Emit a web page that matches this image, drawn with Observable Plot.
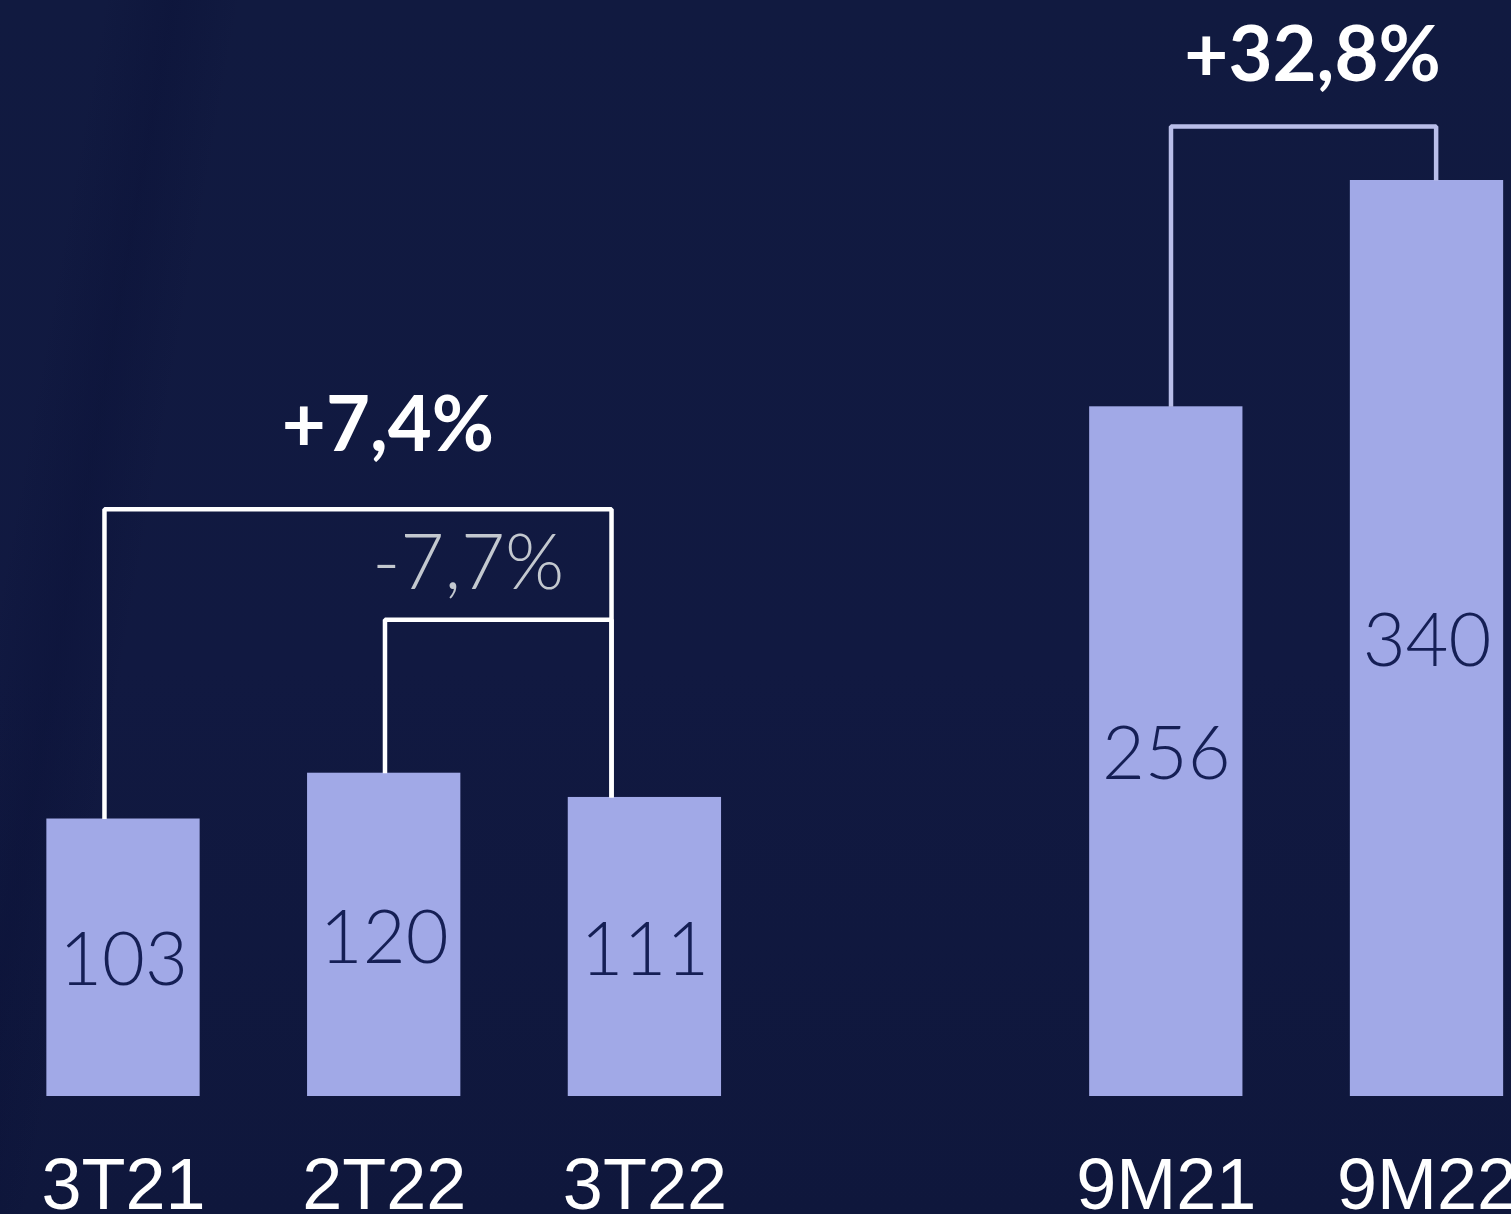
<!DOCTYPE html>
<html><head><meta charset="utf-8">
<script src="https://cdn.jsdelivr.net/npm/d3@7"></script>
<script src="https://cdn.jsdelivr.net/npm/@observablehq/plot@0.6"></script>
<style>
html,body{margin:0;padding:0;background:#11193f;}
#chart{width:1511px;height:1214px;overflow:hidden;
  background:
    linear-gradient(100deg, rgba(8,14,52,0) 6%, rgba(8,14,52,0.3) 10%, rgba(8,14,52,0) 14%),
    linear-gradient(180deg, #111a40 0%, #111941 55%, #0f173c 100%);}
#chart svg{display:block;}
</style></head><body><div id="chart"></div>
<script>
// ---- data ----
const categories = ["3T21", "2T22", "3T22", "9M21", "9M22"];
const slots = [0, 1, 2, 4, 5];          // slot 3 is the gap between the two groups
const values = [103, 120, 111, 256, 340];

const bracketLabels = ["+7,4%", "-7,7%", "+32,8%"];
const bracketFrom = ["3T21", "2T22", "9M21"];
const bracketTo = ["3T22", "3T22", "9M22"];
const bracketLevels = [218, 177, 360];

// ---- styles (not data) ----
const barHalf = 0.294;
const legShift = [[-0.073, -0.128], [0.003, -0.128], [0.018, 0.035]];
const bracketStyle = [
  {stroke: "#ffffff", fill: "#ffffff", weight: 700, dx: 30, dy: -83},
  {stroke: "#ffffff", fill: "#c3c8cf", weight: 300, dx: -30, dy: -55},
  {stroke: "#b9bee9", fill: "#ffffff", weight: 700, dx: 9, dy: -70}
];

const bars = categories.map((c, i) => ({cat: c, slot: slots[i], value: values[i]}));
const byCat = Object.fromEntries(bars.map(d => [d.cat, d]));

const bracketMarks = [];
bracketLabels.forEach((label, k) => {
  const a = byCat[bracketFrom[k]], b = byCat[bracketTo[k]];
  const xa = a.slot + legShift[k][0], xb = b.slot + legShift[k][1];
  const lvl = bracketLevels[k];
  const pts = [{x: xa, y: a.value}, {x: xa, y: lvl}, {x: xb, y: lvl}, {x: xb, y: b.value}];
  const st = bracketStyle[k];
  bracketMarks.push(Plot.line(pts, {x: "x", y: "y", stroke: st.stroke, strokeWidth: 4.5, strokeLinejoin: "miter", strokeLinecap: "butt", curve: "linear"}));
  bracketMarks.push(Plot.text([{x: (xa + xb) / 2, y: lvl, t: label}], {
    x: "x", y: "y", text: "t", dx: st.dx, dy: st.dy, fill: st.fill,
    fontSize: 76, fontWeight: st.weight, fontFamily: "Lato, 'Open Sans', sans-serif", textAnchor: "middle"
  }));
});

const chart = Plot.plot({
  width: 1511,
  height: 1214,
  marginTop: 0, marginBottom: 118, marginLeft: 0, marginRight: 0,
  style: {background: "transparent", color: "white", overflow: "visible"},
  x: {domain: [0, 5], range: [123, 1426.5], axis: null},
  y: {domain: [0, 340], range: [1096, 180], axis: null},
  marks: [
    Plot.rectY(bars, {x1: d => d.slot - barHalf, x2: d => d.slot + barHalf, y: "value", fill: "#a1a9e7"}),
    Plot.text(bars, {x: "slot", y: d => d.value / 2, dy: 4, text: d => String(d.value), fill: "#151f55",
      fontSize: 74, fontWeight: 300, fontFamily: "Lato, 'Open Sans', sans-serif", textAnchor: "middle",
      letterSpacing: -1}),
    ...bracketMarks,
    Plot.axisX({ticks: slots, tickFormat: i => categories[slots.indexOf(i)], tickSize: 0, tickPadding: 61,
      fontSize: 72, fontFamily: "'Liberation Sans', Arial, sans-serif", fill: "white", label: null})
  ]
});
document.getElementById("chart").appendChild(chart);
</script>
</body></html>
